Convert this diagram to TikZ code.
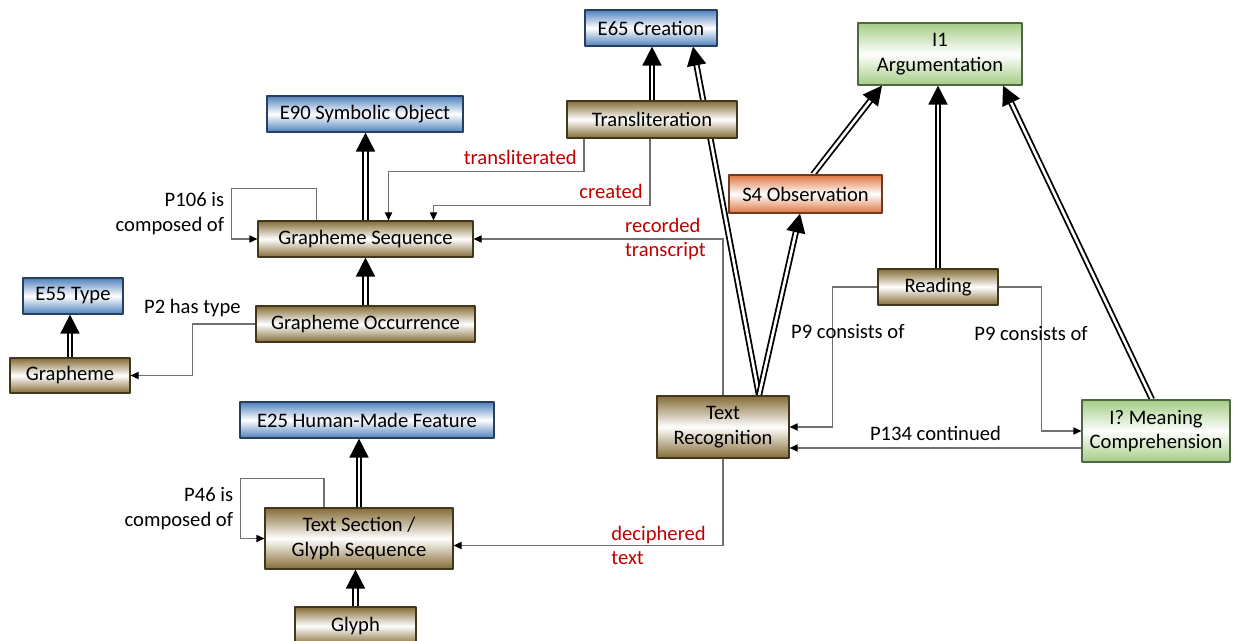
\documentclass[tikz,border=0pt]{standalone}
\usepackage{fontspec}
\setmainfont{Carlito}
\usetikzlibrary{arrows.meta,positioning}
\definecolor{clsblue}{RGB}{79,129,189}
\definecolor{clsbrown}{RGB}{132,108,54}
\definecolor{clsgreen}{RGB}{163,204,132}
\definecolor{clsorange}{RGB}{222,116,62}
\definecolor{relred}{RGB}{192,0,0}
\definecolor{relgray}{RGB}{112,112,112}
\pgfdeclarelayer{paper}
\pgfdeclarelayer{links}
\pgfsetlayers{paper,links,main}

\begin{document}
\begin{tikzpicture}[x=0.5pt, y=-0.5pt, font=\fontsize{10.3}{12.3}\selectfont,
	line join=round,
	cls/.style={draw=#1!50!black, line width=0.6pt, top color=#1, bottom color=#1, middle color=white,
		minimum height=18pt, inner sep=2pt, align=center},
	bluecls/.style={cls=clsblue},
	browncls/.style={cls=clsbrown},
	greencls/.style={cls=clsgreen},
	orangecls/.style={cls=clsorange},
	isa/.style={double=white, double distance=1.3pt, line width=0.9pt, -{Triangle[length=9.5pt,width=9.5pt]}},
	rel/.style={draw=relgray, line width=0.6pt, -{Triangle[length=4pt,width=3.6pt,color=black]}},
	lbl/.style={align=right},
	redlbl/.style={text=relred, align=left}]
	\begin{pgfonlayer}{paper}
		\fill[white] (0,0) rectangle (1245,641);
	\end{pgfonlayer}
	\useasboundingbox (0,0) rectangle (1245,641);
	% classes
	\node[bluecls, minimum width=66pt] (cre) at (651,28) {E65 Creation};
	\node[bluecls, minimum width=98pt] (symb) at (365,114) {E90 Symbolic Object};
	\node[bluecls, minimum width=50pt] (type) at (73,296) {E55 Type};
	\node[bluecls, minimum width=127pt] (feat) at (367,420) {E25 Human-Made Feature};
	\node[greencls, minimum width=82pt, minimum height=31pt] (argu) at (940,54) {I1\\Argumentation};
	\node[greencls, minimum width=74pt, minimum height=31pt] (mean) at (1156,431) {I? Meaning\\Comprehension};
	\node[orangecls, minimum width=76.5pt, minimum height=19pt] (obs) at (805.5,194) {S4 Observation};
	\node[browncls, minimum width=85pt, minimum height=18.5pt] (translit) at (652,119.5) {Transliteration};
	\node[browncls, minimum width=107.5pt] (gseq) at (365.5,239) {Grapheme Sequence};
	\node[browncls, minimum width=109.5pt] (gocc) at (365.5,324) {Grapheme Occurrence};
	\node[browncls, minimum width=60pt, minimum height=17.5pt] (graph) at (70,375.5) {Grapheme};
	\node[browncls, minimum width=94pt, minimum height=30.5pt] (tsec) at (359,538.5) {Text Section /\\Glyph Sequence};
	\node[browncls, minimum width=60.5pt, minimum height=19pt] (glyph) at (355.5,626) {Glyph};
	\node[browncls, minimum width=66pt, minimum height=31pt] (trec) at (723,427) {Text\\Recognition};
	\node[browncls, minimum width=60pt] (read) at (938,287) {Reading};

	\begin{pgfonlayer}{links}
		% is-a links
		\foreach \a/\b in {translit/cre, gseq/symb, gocc/gseq, graph/type, tsec/feat, glyph/tsec, read/argu}
			\draw[isa] (\a.north) -- (\a.north |- \b.south);
		\draw[isa] ([xshift=18pt]trec.north) -- ([xshift=21pt]cre.south);
		\draw[isa] ([xshift=18pt]trec.north) -- ([xshift=-2.75pt]obs.south);
		\draw[isa] ([xshift=3.75pt]obs.north) -- ([xshift=-29pt]argu.south);
		\draw[isa] ([xshift=-2pt]mean.north) -- ([xshift=31.5pt]argu.south);

		% properties
		\draw[rel] ([xshift=-24.5pt]gseq.north) -- ++(0,16pt) -| node[pos=0.75, left, lbl] {P106 is\\composed of} ([xshift=-13pt]gseq.west) -- (gseq.west);
		\draw[rel] ([xshift=-34pt]translit.south) -- ++(0,-16.5pt) -| node[pos=0, above left, redlbl] {transliterated} ([xshift=11.5pt]gseq.north);
		\draw[rel] ([xshift=-1pt]translit.south) -- ++(0,-33.5pt) -| node[pos=0, above left, redlbl] {created} ([xshift=34pt]gseq.north);
		\draw[rel] (trec.north) |- node[pos=0.5, left=5pt, redlbl] {recorded\\transcript} (gseq.east);
		\draw[rel] (trec.south) |- node[pos=0.5, left=5pt, redlbl] {deciphered\\text} ([yshift=-3.5pt]tsec.east);
		\draw[rel] (gocc.west) -- ++(-31.5pt,0) node[above] {P2 has type} |- (graph.east);
		\draw[rel] ([xshift=-17.5pt]tsec.north) -- ++(0,14.5pt) -| node[pos=0.75, left, lbl] {P46 is\\composed of} ([xshift=-12pt]tsec.west) -- (tsec.west);
		\draw[rel] (read.west) -- ++(-22.5pt,0) |- node[pos=0.16, xshift=7.75pt] {P9 consists of} (trec.east);
		\draw[rel] (read.east) -- ++(21.5pt,0) |- node[pos=0.163, xshift=-5.25pt] {P9 consists of} (mean.west);
		\draw[rel] ([yshift=-8.5pt]mean.west) -- node[above] {P134 continued} ([yshift=-10.5pt]trec.east);
	\end{pgfonlayer}
\end{tikzpicture}
\end{document}
